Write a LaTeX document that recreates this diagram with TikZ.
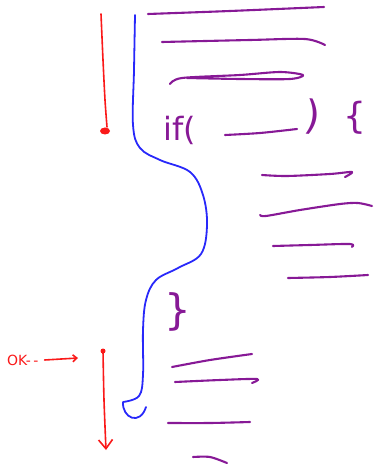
\documentclass[tikz,border=0pt]{standalone}
\usepackage{fontspec}
\setsansfont{DejaVu Sans}
\usetikzlibrary{arrows.meta}
\definecolor{inkpurple}{RGB}{135,25,150}
\definecolor{inkblue}{RGB}{40,40,250}
\definecolor{inkred}{RGB}{250,25,25}
\tikzset{
  pen/.style={line width=2.1pt, line cap=round, line join=round},
  pline/.style={pen, inkpurple},
  bline/.style={line width=1.8pt, line cap=round, line join=round, inkblue},
  rline/.style={line width=1.6pt, line cap=round, line join=round, inkred},
  ptext/.style={inkpurple, inner sep=0pt, font=\sffamily\fontsize{32}{32}\selectfont},
  rtext/.style={inkred, inner sep=0pt, font=\sffamily\fontsize{14}{14}\selectfont}
}
\begin{document}
\begin{tikzpicture}[x=1pt,y=-1pt]
\useasboundingbox (0,0) rectangle (374,465);
% red top marker
\draw[rline] plot[smooth] coordinates {(101,14) (103,60) (105,100) (107,127)};
\fill[inkred] (105,131) ellipse (5 and 3.5);
% blue flow
\draw[bline] plot[smooth, tension=0.6] coordinates {(135,15) (134,70) (133,125) (140,148) (160,160) (190,172) (203,195) (207,225) (201,254) (178,268) (156,280) (146,300) (143,330) (143,375) (139,396) (123,402)}
  .. controls (122,418) and (140,426) .. (146,407);
% purple code lines
\draw[pline] plot[smooth] coordinates {(148,14) (230,11) (324,7)};
\draw[pline] plot[smooth] coordinates {(162,42) (250,40) (305,39) (325,45)};
\draw[pline] plot[smooth] coordinates {(170,84) (182,78) (240,75) (280,72) (303,75) (290,79) (240,79) (187,78)};
\node[ptext] (iftext) at (180,130) {if(};
\draw[pline] plot[smooth] coordinates {(225,135) (260,133) (297,129)};
\node[ptext, font=\sffamily\fontsize{40}{40}\selectfont, rotate=-6] (closep) at (313,117) {)};
\node[ptext, font=\sffamily\fontsize{36}{36}\selectfont] (openb) at (355,118) {\{};
\draw[pline] plot[smooth] coordinates {(262,175) (287,176) (330,174) (352,172) (345,177)};
\draw[pline] plot[smooth] coordinates {(260,215) (266,216) (300,210) (340,204) (358,203) (372,206)};
\draw[pline] plot[smooth] coordinates {(273,246) (310,245) (350,244) (352,247)};
\draw[pline] plot[smooth] coordinates {(288,278) (330,277) (368,275)};
\node[ptext, font=\sffamily\fontsize{42}{42}\selectfont] (closeb) at (178,312) {\}};
\draw[pline] plot[smooth] coordinates {(172,367) (210,360) (252,354)};
\draw[pline] plot[smooth] coordinates {(175,382) (220,380) (257,379) (252,383)};
\draw[pline] plot[smooth] coordinates {(168,423) (210,423) (250,422)};
\draw[pline] plot[smooth] coordinates {(193,457) (210,457) (227,463)};
% red bottom arrow
\fill[inkred] (103,351) circle (2.5);
\draw[rline, -{Straight Barb[length=9pt,width=14pt]}] plot[smooth] coordinates {(103,351) (104,400) (106,450)};
% OK label
\node[rtext, anchor=west] (ok) at (7,360) {OK-\,-};
\coordinate (okend) at (78,358);
\draw[rline, -{Straight Barb[length=4pt,width=7pt]}] ([xshift=6pt]ok.east) -- (okend);
\end{tikzpicture}
\end{document}
